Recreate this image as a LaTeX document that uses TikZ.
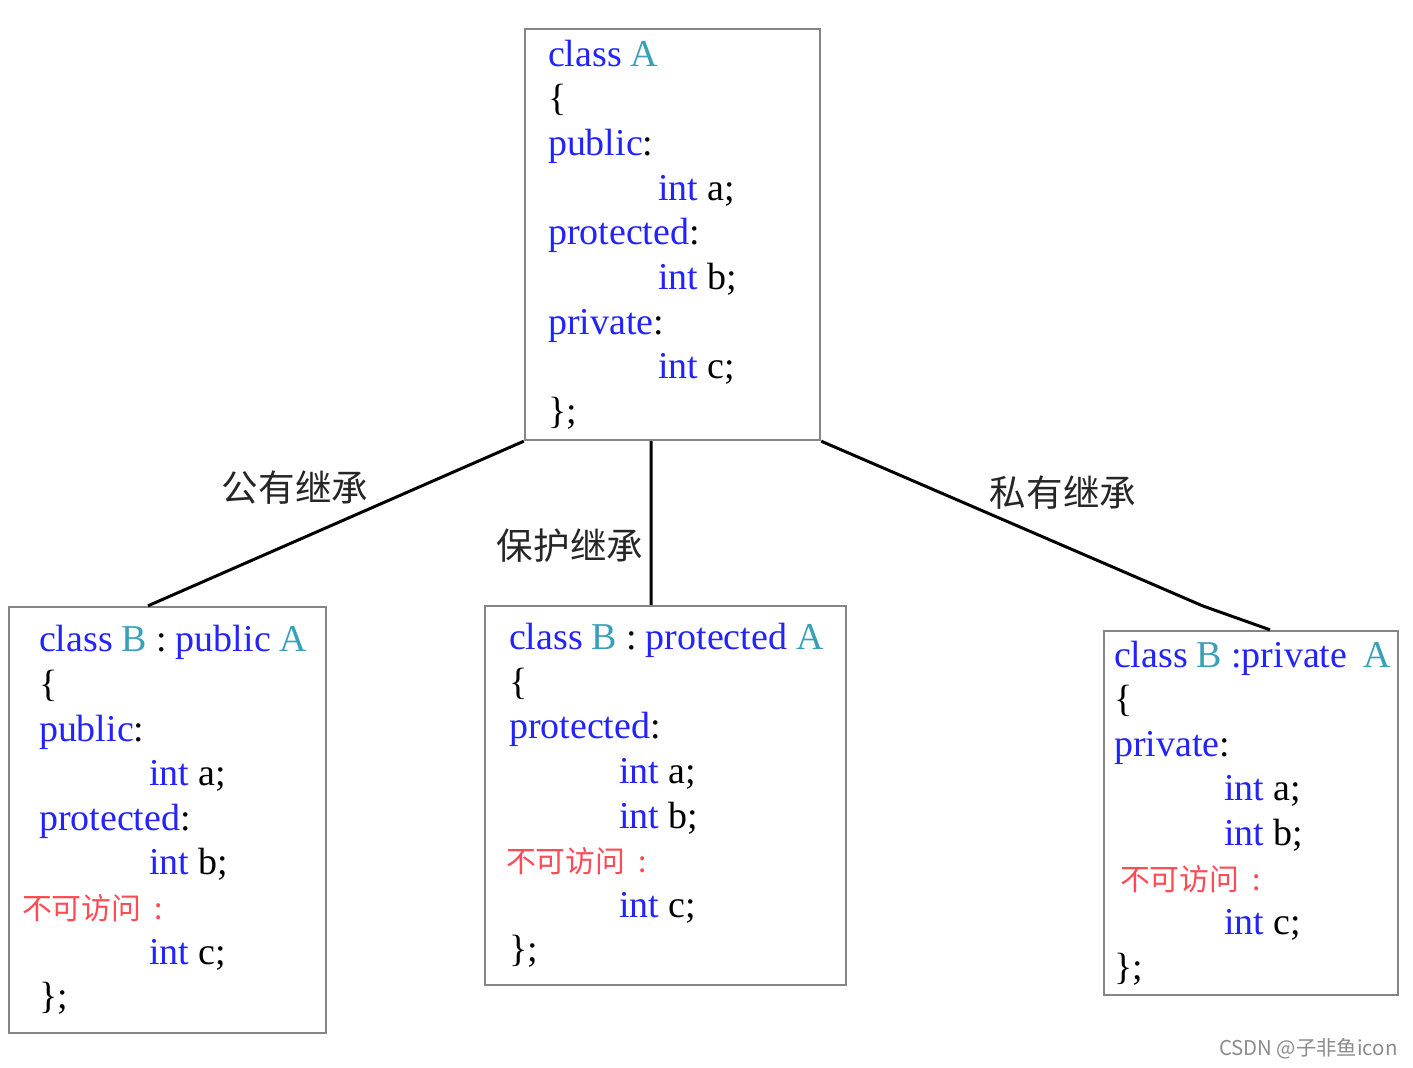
\documentclass[tikz,border=0pt]{standalone}
\usepackage{fontspec}
\setmainfont{Liberation Serif}
\newfontfamily\cjk{Noto Sans CJK SC}
\definecolor{kwblue}{HTML}{2323FF}
\definecolor{nameteal}{HTML}{3A9FB8}
\definecolor{hidered}{HTML}{FF4B55}
\definecolor{framegray}{HTML}{858585}
\usetikzlibrary{positioning}
\newcommand{\kw}[1]{\textcolor{kwblue}{#1}}
\newcommand{\nm}[1]{\textcolor{nameteal}{#1}}
\newcommand{\ind}{\hspace*{2.2cm}}
\newcommand{\gap}{\hspace{0.24em}}
\newcommand{\hid}{{\cjk\fontsize{17}{25.4}\selectfont\textcolor{hidered}{不可访问 :}}}

\begin{document}
\begin{tikzpicture}[
  x=0.02cm, y=-0.02cm,
  codebox/.style={draw=framegray, line width=1.4pt, fill=white, align=left,
                  font=\fontsize{21.6}{25.4}\selectfont, inner ysep=0pt},
  link/.style={line width=1.7pt, black},
  lbl/.style={font=\cjk\fontsize{20.8}{24}\selectfont, text=black!85},
  wm/.style={font=\cjk\fontsize{11.6}{13}\selectfont, text=black!45, inner sep=0pt},
]
\fill[white] (0,0) rectangle (1413,1068);
\useasboundingbox (0,0) rectangle (1413,1068);

% base class
\node[codebox, inner xsep=0.46cm, text width=4.98cm,
      minimum width=5.9cm, minimum height=8.22cm] (A) at (672.5,234.5) {
  \mbox{\kw{class}\gap\nm{A}}\\
  \{\\
  \kw{public}:\\
  \ind\kw{int}\gap a;\\
  \kw{protected}:\\
  \ind\kw{int}\gap b;\\
  \kw{private}:\\
  \ind\kw{int}\gap c;\\
  \};
};

% derived classes
\node[codebox, inner xsep=0.6cm, text width=5.14cm,
      minimum width=6.34cm, minimum height=8.52cm] (pubB) at (167.5,820) {
  \mbox{\kw{class}\gap\nm{B}\gap:\gap\kw{public}\gap\nm{A}}\\
  \{\\
  \kw{public}:\\
  \ind\kw{int}\gap a;\\
  \kw{protected}:\\
  \ind\kw{int}\gap b;\\
  \hspace*{-0.34cm}\hid\\
  \ind\kw{int}\gap c;\\
  \};
};
\node[codebox, inner xsep=0.48cm, text width=6.26cm,
      minimum width=7.22cm, minimum height=7.58cm] (protB) at (665.5,795.5) {
  \mbox{\kw{class}\gap\nm{B}\gap:\gap\kw{protected}\gap\nm{A}}\\
  \{\\
  \kw{protected}:\\
  \ind\kw{int}\gap a;\\
  \ind\kw{int}\gap b;\\
  \hspace*{-0.06cm}\hid\\
  \ind\kw{int}\gap c;\\
  \};
};
\node[codebox, inner xsep=0.2cm, text width=5.48cm,
      minimum width=5.88cm, minimum height=7.28cm] (privB) at (1251,813) {
  \mbox{\kw{class}\gap\nm{B}\gap\kw{:private}\hspace{0.42em}\nm{A}}\\
  \{\\
  \kw{private}:\\
  \ind\kw{int}\gap a;\\
  \ind\kw{int}\gap b;\\
  \hspace*{0.12cm}\hid\\
  \ind\kw{int}\gap c;\\
  \};
};

% inheritance lines
\coordinate (kink) at (1203,606);
\draw[link] (A.south west) -- ([xshift=-0.39cm]pubB.north);
\draw[link] ([xshift=-0.43cm]A.south) -- ([xshift=-0.29cm]protB.north);
\draw[link] (A.south east) -- (kink) -- ([xshift=0.38cm]privB.north);

\node[lbl] (pubL) at (295,488) {公有继承};
\node[lbl] (protL) at (570,546) {保护继承};
\node[lbl] (privL) at (1063,493) {私有继承};

\node[wm, anchor=east] (mark) at (1398,1049) {CSDN @子非鱼icon};
\end{tikzpicture}
\end{document}
